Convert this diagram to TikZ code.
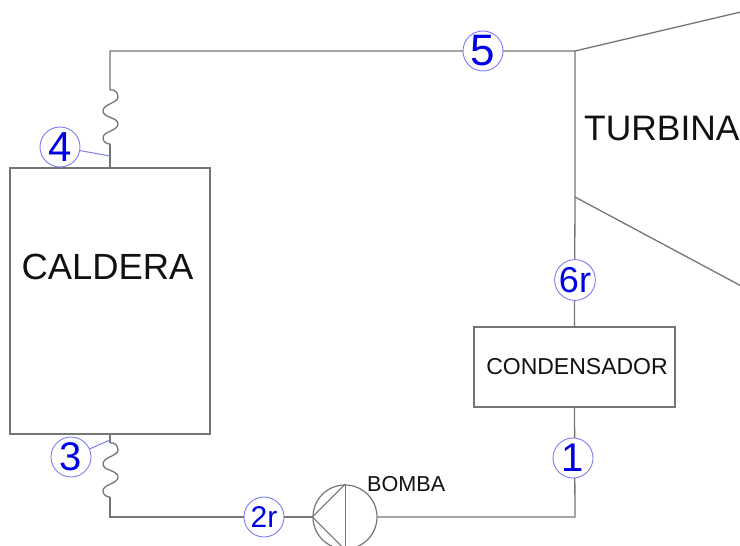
\documentclass[tikz,border=0pt]{standalone}
\usepackage{fontspec}
\setmainfont{Liberation Sans}
\usepackage{xcolor}
\usepackage{tikz}
\usetikzlibrary{positioning}
\definecolor{pipecol}{HTML}{757575}
\definecolor{ringcol}{HTML}{7C7CF0}
\definecolor{numcol}{HTML}{0000E6}
\definecolor{inkText}{HTML}{111111}

\begin{document}
\begin{tikzpicture}[
  x=1pt,y=-1pt,
  pipe/.style={draw=pipecol,line width=1.3pt},
  unit/.style={draw=pipecol,line width=1.3pt,inner sep=0pt},
  tag/.style={font=\fontsize{#1}{#1}\selectfont,text=inkText,inner sep=0pt},
  num/.style={circle,draw=ringcol,fill=white,line width=0.9pt,inner sep=0pt,
              minimum size=40pt,text=numcol,font=\fontsize{#1}{#1}\selectfont},
  lead/.style={draw=ringcol,line width=1pt},
  coil/.pic={\draw[pipe] (0,0) .. controls (5,-1) and (8,3) .. (8,7)
     .. controls (8,13) and (-7,14) .. (-7,21)
     .. controls (-7,28) and (8,27) .. (8,34)
     .. controls (8,41) and (-7,41) .. (-7,48)
     .. controls (-7,52) and (-3,54) .. (0,54);}]
  \useasboundingbox (0,0) rectangle (740,546);
  \node[unit,minimum width=200pt,minimum height=266pt] (caldera) at (110,301) {};
  \node[tag=36.4] (calderatxt) at (107.5,267) {CALDERA};
  \node[unit,minimum width=201pt,minimum height=80pt] (condensador) at (574.5,367) {};
  \node[tag=23] (condensadortxt) at (577,367) {CONDENSADOR};
  \node[tag=35.4,anchor=west] (turbina) at (584,128) {TURBINA};
  \node[circle,draw=pipecol,line width=1.2pt,inner sep=0pt,minimum size=64pt] (bomba) at (345,517) {};
  \node[tag=21.6,anchor=west] (bombatxt) at (367,484) {BOMBA};
  \coordinate (coilA) at (110,90);
  \coordinate (coilAend) at (110,144);
  \coordinate (coilB) at (110,443);
  \coordinate (coilBend) at (110,497);
  \coordinate (topleft) at (110,51);
  \coordinate (inlet) at (575,51);
  \coordinate (outlet) at (575,197);
  \coordinate (inletEnd) at (745,11);
  \coordinate (outletEnd) at (745,288);
  \coordinate (botleft) at (110,517);
  \coordinate (botright) at (575,517);
  \coordinate (lead4) at (110,156);
  \coordinate (lead3) at (110,440);
  % pipes
  \draw[pipe] (caldera.north) -- (coilAend);
  \pic at (coilA) {coil};
  \draw[pipe] (coilA) -- (topleft) -- (inlet) -- (outlet) -- (condensador.north);
  \draw[pipe] (inlet) -- (inletEnd);
  \draw[pipe] (outlet) -- (outletEnd);
  \draw[pipe] (caldera.south) -- (coilB);
  \pic at (coilB) {coil};
  \draw[pipe] (coilBend) -- (botleft) -- (bomba.west);
  \draw[pipe] (bomba.east) -- (botright) -- (condensador.south);
  % pump
  \draw[pipecol,line width=1pt] (bomba.north) -- (bomba.south);
  \draw[pipecol,line width=1pt] (bomba.north) -- (bomba.west) -- (bomba.south);
  % numbers
  \node[num=44] (n5) at (483,51) {5};
  \node[num=42] (n4) at (60,147) {4};
  \node[num=40] (n3) at (71,457) {3};
  \node[num=30] (n2r) at (264,517) {2r};
  \node[num=36] (n6r) at (575,280) {6r};
  \node[num=40] (n1) at (573,458) {1};
  \draw[lead] (n4) -- (lead4);
  \draw[lead] (n3) -- (lead3);
\end{tikzpicture}
\end{document}
